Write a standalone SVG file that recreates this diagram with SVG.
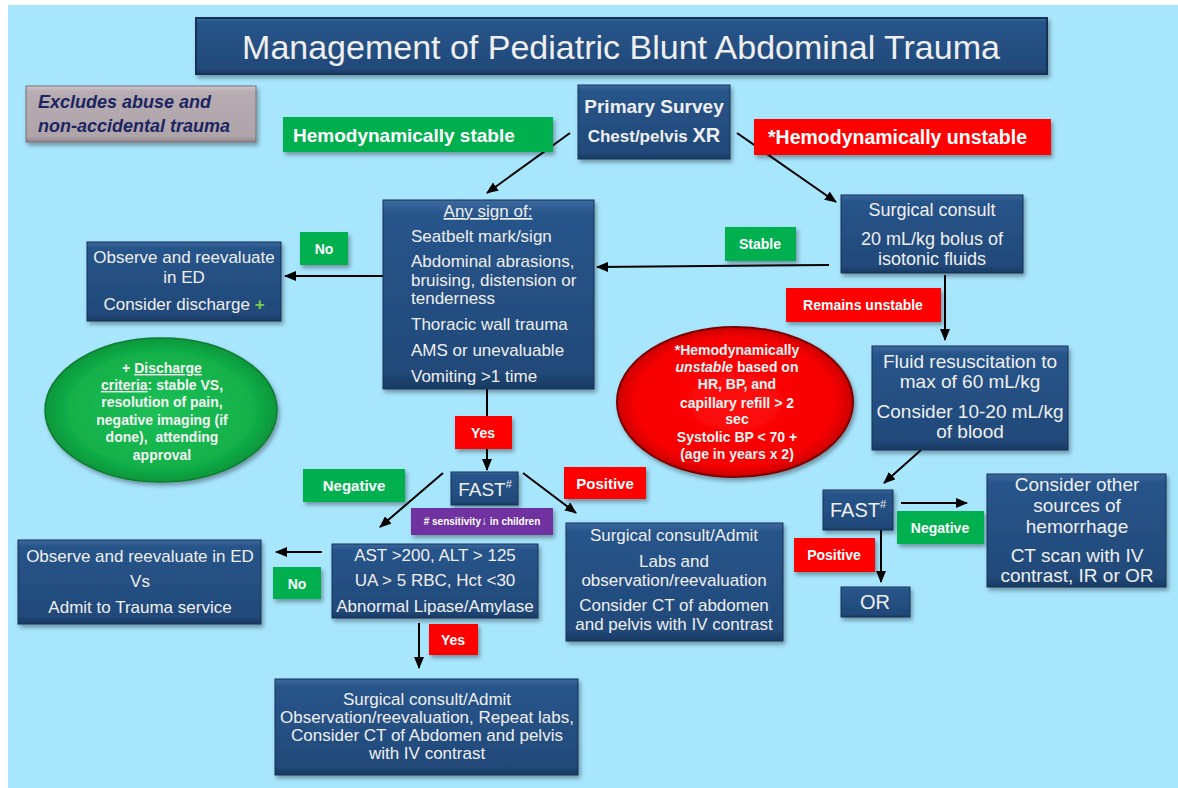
<svg xmlns="http://www.w3.org/2000/svg" width="1178" height="788" viewBox="0 0 1178 788">
<defs>
<style>
.bx{fill:url(#gB);stroke:#143356;stroke-width:1;filter:url(#sh)}
.t{font-family:"Liberation Sans",Arial,sans-serif;fill:#EFEFEF;text-anchor:middle;font-size:17px}
.tl{font-family:"Liberation Sans",Arial,sans-serif;fill:#EFEFEF;font-size:17px}
.lb{font-family:"Liberation Sans",Arial,sans-serif;font-weight:bold;fill:#FFFFFF;text-anchor:middle;font-size:14px}
.gr{fill:#00B050;filter:url(#sh)}
.rd{fill:#FF0000;filter:url(#sh)}
.el{font-family:"Liberation Sans",Arial,sans-serif;font-weight:bold;fill:#F4F4F4;text-anchor:middle;font-size:14px}
.ex{font-family:"Liberation Sans",Arial,sans-serif;font-weight:bold;font-style:italic;font-size:18px;fill:#1B2561}
.cn line{stroke:#000;stroke-width:2;marker-end:url(#ah)}
</style>
<linearGradient id="gB" x1="0" y1="0" x2="0" y2="1">
<stop offset="0" stop-color="#3A6A9E"/>
<stop offset="0.08" stop-color="#28548A"/>
<stop offset="0.9" stop-color="#224A7A"/>
<stop offset="1" stop-color="#183A62"/>
</linearGradient>
<linearGradient id="gG" x1="0" y1="0" x2="0" y2="1">
<stop offset="0" stop-color="#CFC6CB"/>
<stop offset="0.1" stop-color="#B7ACB2"/>
<stop offset="0.9" stop-color="#AFA4AA"/>
<stop offset="1" stop-color="#8E8489"/>
</linearGradient>
<radialGradient id="rG" cx="0.5" cy="0.5" r="0.5">
<stop offset="0" stop-color="#1CC056"/>
<stop offset="0.8" stop-color="#12B04A"/>
<stop offset="1" stop-color="#08973B"/>
</radialGradient>
<radialGradient id="rR" cx="0.5" cy="0.5" r="0.5">
<stop offset="0" stop-color="#FF0C0C"/>
<stop offset="0.85" stop-color="#F60000"/>
<stop offset="1" stop-color="#CC0000"/>
</radialGradient>
<filter id="sh" x="-10%" y="-10%" width="130%" height="140%">
<feDropShadow dx="2" dy="3" stdDeviation="2" flood-color="#000" flood-opacity="0.35"/>
</filter>
<marker id="ah" markerUnits="userSpaceOnUse" markerWidth="12" markerHeight="10" refX="11" refY="5" orient="auto">
<path d="M0,0 L12,5 L0,10 z" fill="#000"/>
</marker>
</defs>
<rect x="0" y="0" width="1178" height="788" fill="#FFFFFF"/>
<rect x="8" y="5" width="1170" height="783" fill="#A8E6FE"/>

<g id="connectors" class="cn">
<line x1="570" y1="133" x2="487" y2="193"/>
<line x1="737" y1="133" x2="836" y2="202"/>
<line x1="829" y1="265" x2="597" y2="267"/>
<line x1="383" y1="276" x2="285" y2="276"/>
<line x1="487" y1="389" x2="487" y2="470"/>
<line x1="443" y1="473" x2="380" y2="527"/>
<line x1="523" y1="473" x2="576" y2="513"/>
<line x1="322" y1="552" x2="276" y2="552"/>
<line x1="419" y1="623" x2="419" y2="668"/>
<line x1="945" y1="275" x2="945" y2="340"/>
<line x1="921" y1="450" x2="884" y2="483"/>
<line x1="901" y1="503" x2="967" y2="503"/>
<line x1="881" y1="530" x2="881" y2="582"/>
</g>

<g id="title">
<rect class="bx" x="196" y="18" width="851" height="56" style="stroke-width:2"/>
<text class="t" x="621" y="59" style="font-size:34px">Management of Pediatric Blunt Abdominal Trauma</text>
</g>

<g id="excludes">
<rect x="26" y="86" width="230" height="56" fill="url(#gG)" stroke="#7A7076" filter="url(#sh)"/>
<text class="ex" x="38" y="108">Excludes abuse and</text>
<text class="ex" x="38" y="132">non-accidental trauma</text>
</g>

<g id="lbl-stable">
<rect class="gr" x="283" y="117" width="270" height="35"/>
<text class="lb" x="293" y="142" style="font-size:19px;text-anchor:start">Hemodynamically stable</text>
</g>

<g id="primary">
<rect class="bx" x="578" y="85" width="152" height="74"/>
<text class="t" x="654" y="113" style="font-size:19px;font-weight:bold">Primary  Survey</text>
<text class="t" x="654" y="142" style="font-size:17px;font-weight:bold">Chest/pelvis <tspan style="font-size:20px">XR</tspan></text>
</g>

<g id="lbl-unstable">
<rect class="rd" x="754" y="119" width="297" height="36"/>
<text class="lb" x="768" y="144" style="font-size:19.5px;text-anchor:start">*Hemodynamically unstable</text>
</g>

<g id="surgical1">
<rect class="bx" x="841" y="195" width="182" height="78"/>
<text class="t" x="932" y="216" style="font-size:18px">Surgical consult</text>
<text class="t" x="932" y="245" style="font-size:18px">20 mL/kg bolus of</text>
<text class="t" x="932" y="265" style="font-size:18px">isotonic fluids</text>
</g>

<g id="lbl-stable2">
<rect class="gr" x="725" y="227" width="71" height="34"/>
<text class="lb" x="760" y="249">Stable</text>
</g>

<g id="anysign">
<rect class="bx" x="383" y="200" width="211" height="189"/>
<text class="t" x="488" y="217" text-decoration="underline">Any sign of:</text>
<text class="tl" x="411" y="242">Seatbelt mark/sign</text>
<text class="tl" x="411" y="267">Abdominal abrasions,</text>
<text class="tl" x="411" y="286">bruising, distension or</text>
<text class="tl" x="411" y="304">tenderness</text>
<text class="tl" x="411" y="330">Thoracic wall trauma</text>
<text class="tl" x="411" y="356">AMS or unevaluable</text>
<text class="tl" x="411" y="382">Vomiting &gt;1 time</text>
</g>

<g id="observe1">
<rect class="bx" x="87" y="242" width="194" height="79"/>
<text class="t" x="184" y="263">Observe and reevaluate</text>
<text class="t" x="184" y="283">in ED</text>
<text class="t" x="184" y="310">Consider discharge <tspan fill="#7CCB4A" font-weight="bold">+</tspan></text>
</g>

<g id="lbl-no1">
<rect class="gr" x="300" y="232" width="48" height="33"/>
<text class="lb" x="324" y="254">No</text>
</g>

<g id="discharge">
<ellipse cx="161" cy="410" rx="116" ry="72" fill="url(#rG)" stroke="#0B7A30" stroke-width="1.5" filter="url(#sh)"/>
<text class="el" x="162" y="373">+ <tspan text-decoration="underline">Discharge</tspan></text>
<text class="el" x="162" y="390"><tspan text-decoration="underline">criteria</tspan>: stable VS,</text>
<text class="el" x="162" y="407">resolution of pain,</text>
<text class="el" x="162" y="425">negative imaging (if</text>
<text class="el" x="162" y="442" xml:space="preserve">done),  attending</text>
<text class="el" x="162" y="460">approval</text>
</g>

<g id="lbl-yes1">
<rect class="rd" x="455" y="416" width="57" height="33"/>
<text class="lb" x="483" y="438">Yes</text>
</g>

<g id="fast1">
<rect class="bx" x="451" y="472" width="67" height="33"/>
<text class="t" x="485" y="496" style="font-size:19px">FAST<tspan style="font-size:11px" dy="-8">#</tspan></text>
</g>

<g id="lbl-neg1">
<rect class="gr" x="303" y="469" width="102" height="33"/>
<text class="lb" x="354" y="491" style="font-size:15px">Negative</text>
</g>

<g id="lbl-pos1">
<rect class="rd" x="564" y="467" width="82" height="32"/>
<text class="lb" x="605" y="489" style="font-size:15px">Positive</text>
</g>

<g id="sensitivity">
<rect x="411" y="508" width="142" height="27" fill="#7030A0" filter="url(#sh)"/>
<text class="lb" x="482" y="525" style="font-size:10px"># sensitivity<tspan fill="#DDE6FF" style="font-size:12px">↓</tspan> in children</text>
</g>

<g id="labs">
<rect class="bx" x="332" y="544" width="206" height="74"/>
<text class="t" x="435" y="561">AST &gt;200, ALT &gt; 125</text>
<text class="t" x="435" y="586">UA &gt; 5 RBC, Hct &lt;30</text>
<text class="t" x="435" y="612">Abnormal Lipase/Amylase</text>
</g>

<g id="surgical2">
<rect class="bx" x="566" y="523" width="217" height="118"/>
<text class="t" x="674" y="541">Surgical consult/Admit</text>
<text class="t" x="674" y="567">Labs and</text>
<text class="t" x="674" y="586">observation/reevaluation</text>
<text class="t" x="674" y="611">Consider CT of abdomen</text>
<text class="t" x="674" y="630">and pelvis with IV contrast</text>
</g>

<g id="observe2">
<rect class="bx" x="18" y="540" width="243" height="84"/>
<text class="t" x="140" y="562">Observe and reevaluate in ED</text>
<text class="t" x="140" y="587">Vs</text>
<text class="t" x="140" y="613">Admit to Trauma service</text>
</g>

<g id="lbl-no2">
<rect class="gr" x="273" y="567" width="48" height="32"/>
<text class="lb" x="297" y="589">No</text>
</g>

<g id="lbl-yes2">
<rect class="rd" x="429" y="624" width="49" height="31"/>
<text class="lb" x="453" y="645">Yes</text>
</g>

<g id="surgical3">
<rect class="bx" x="275" y="679" width="303" height="96"/>
<text class="t" x="427" y="705">Surgical consult/Admit</text>
<text class="t" x="427" y="723">Observation/reevaluation, Repeat labs,</text>
<text class="t" x="427" y="741">Consider CT of Abdomen and pelvis</text>
<text class="t" x="427" y="759">with IV contrast</text>
</g>

<g id="lbl-remains">
<rect class="rd" x="786" y="288" width="155" height="34"/>
<text class="lb" x="863" y="310">Remains unstable</text>
</g>

<g id="unstable-criteria">
<ellipse cx="735" cy="402" rx="118" ry="75" fill="url(#rR)" stroke="#7A0000" stroke-width="2" filter="url(#sh)"/>
<text class="el" x="737" y="355">*Hemodynamically</text>
<text class="el" x="737" y="372"><tspan font-style="italic">unstable</tspan> based on</text>
<text class="el" x="737" y="389">HR, BP, and</text>
<text class="el" x="737" y="408">capillary refill &gt; 2</text>
<text class="el" x="737" y="424">sec</text>
<text class="el" x="737" y="442">Systolic BP &lt; 70 +</text>
<text class="el" x="737" y="459">(age in years x 2)</text>
</g>

<g id="fluid">
<rect class="bx" x="872" y="346" width="196" height="104"/>
<text class="t" x="970" y="368" style="font-size:19px">Fluid resuscitation to</text>
<text class="t" x="970" y="388" style="font-size:19px">max of 60 mL/kg</text>
<text class="t" x="970" y="418" style="font-size:19px">Consider 10-20 mL/kg</text>
<text class="t" x="970" y="438" style="font-size:19px">of blood</text>
</g>

<g id="fast2">
<rect class="bx" x="823" y="490" width="70" height="40"/>
<text class="t" x="858" y="517" style="font-size:20px">FAST<tspan style="font-size:11px" dy="-9">#</tspan></text>
</g>

<g id="lbl-neg2">
<rect class="gr" x="897" y="511" width="87" height="33"/>
<text class="lb" x="940" y="533">Negative</text>
</g>

<g id="lbl-pos2">
<rect class="rd" x="794" y="538" width="81" height="34"/>
<text class="lb" x="834" y="560">Positive</text>
</g>

<g id="other-sources">
<rect class="bx" x="987" y="474" width="179" height="113"/>
<text class="t" x="1077" y="491" style="font-size:19px">Consider other</text>
<text class="t" x="1077" y="512" style="font-size:19px">sources of</text>
<text class="t" x="1077" y="533" style="font-size:19px">hemorrhage</text>
<text class="t" x="1077" y="562" style="font-size:19px">CT scan with IV</text>
<text class="t" x="1077" y="582" style="font-size:19px">contrast, IR or OR</text>
</g>

<g id="or">
<rect class="bx" x="841" y="587" width="69" height="30"/>
<text class="t" x="875" y="609" style="font-size:20px">OR</text>
</g>
</svg>
